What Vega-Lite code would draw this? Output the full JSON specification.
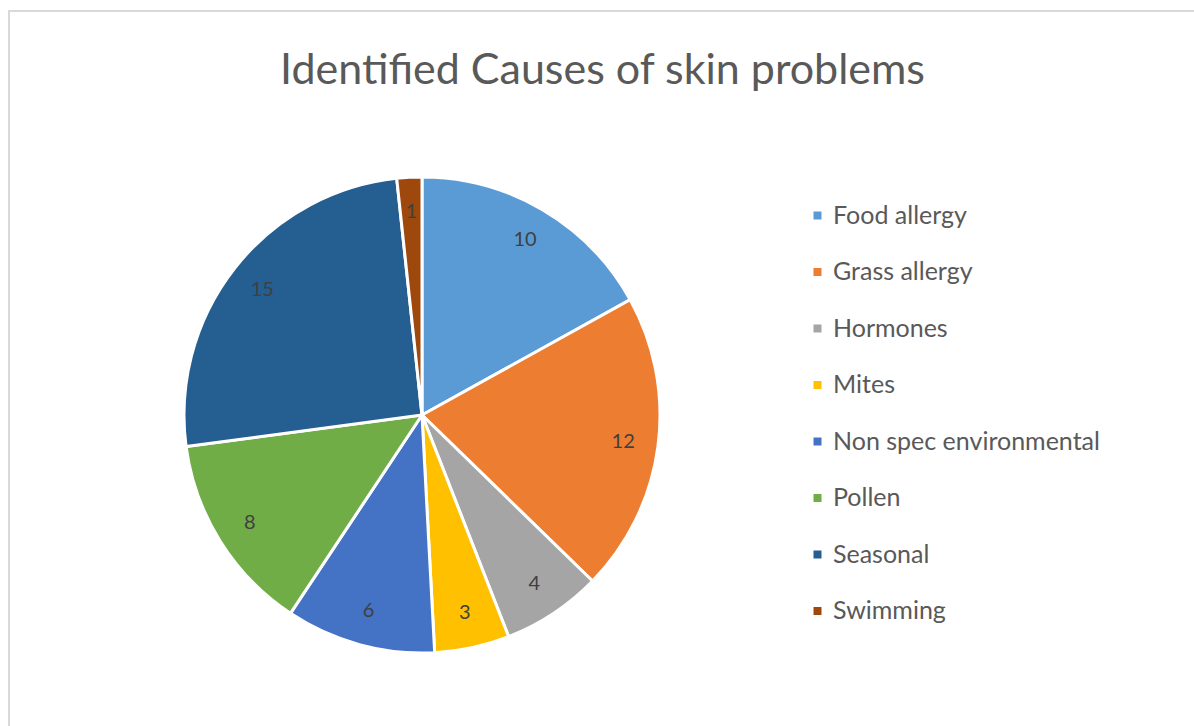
{
  "$schema": "https://vega.github.io/schema/vega-lite/v6.json",
  "autosize": {"type": "fit", "contains": "padding"},
  "width": 1194,
  "height": 726,
  "padding": {"left": 9, "top": 11, "right": -2, "bottom": -2},
  "background": "white",
  "view": {"stroke": "#d9d9d9", "strokeWidth": 2, "fill": "white"},
  "config": {
    "font": "Lato"
  },
  "title": {
    "text": "Identified Causes of skin problems",
    "font": "Lato",
    "fontSize": 43,
    "fontWeight": "normal",
    "color": "#595959",
    "anchor": "middle",
    "offset": -82
  },
  "data": {
    "values": [
      {"cause": "Food allergy", "count": 10},
      {"cause": "Grass allergy", "count": 12},
      {"cause": "Hormones", "count": 4},
      {"cause": "Mites", "count": 3},
      {"cause": "Non spec environmental", "count": 6},
      {"cause": "Pollen", "count": 8},
      {"cause": "Seasonal", "count": 15},
      {"cause": "Swimming", "count": 1}
    ]
  },
  "encoding": {
    "theta": {"field": "count", "type": "quantitative", "stack": true},
    "order": {"field": "cause", "type": "nominal", "sort": "ascending"},
    "color": {
      "field": "cause",
      "type": "nominal",
      "sort": null,
      "scale": {
        "domain": ["Food allergy", "Grass allergy", "Hormones", "Mites", "Non spec environmental", "Pollen", "Seasonal", "Swimming"],
        "range": ["#5B9BD5", "#ED7D31", "#A5A5A5", "#FFC000", "#4472C4", "#70AD47", "#255E91", "#9E480E"]
      },
      "legend": {
        "title": null,
        "orient": "none",
        "legendX": 796,
        "legendY": 192,
        "symbolType": "square",
        "symbolSize": 64,
        "symbolStrokeWidth": 0,
        "labelFontSize": 25,
        "labelColor": "#595959",
        "labelFont": "Lato",
        "labelOffset": 3,
        "rowPadding": 30.5,
        "labelLimit": 400
      }
    }
  },
  "layer": [
    {
      "mark": {"type": "arc", "outerRadius": 238, "x": 413, "y": 404, "stroke": "white", "strokeWidth": 3}
    },
    {
      "mark": {"type": "text", "x": 413, "y": 404, "fontSize": 20, "font": "Lato"},
      "encoding": {
        "text": {"field": "count", "type": "quantitative"},
        "detail": {"field": "cause", "type": "nominal"},
        "radius": {"condition": {"test": "datum.count < 2", "value": 228}, "value": 203},
        "color": {"value": "#404040"}
      }
    }
  ]
}
